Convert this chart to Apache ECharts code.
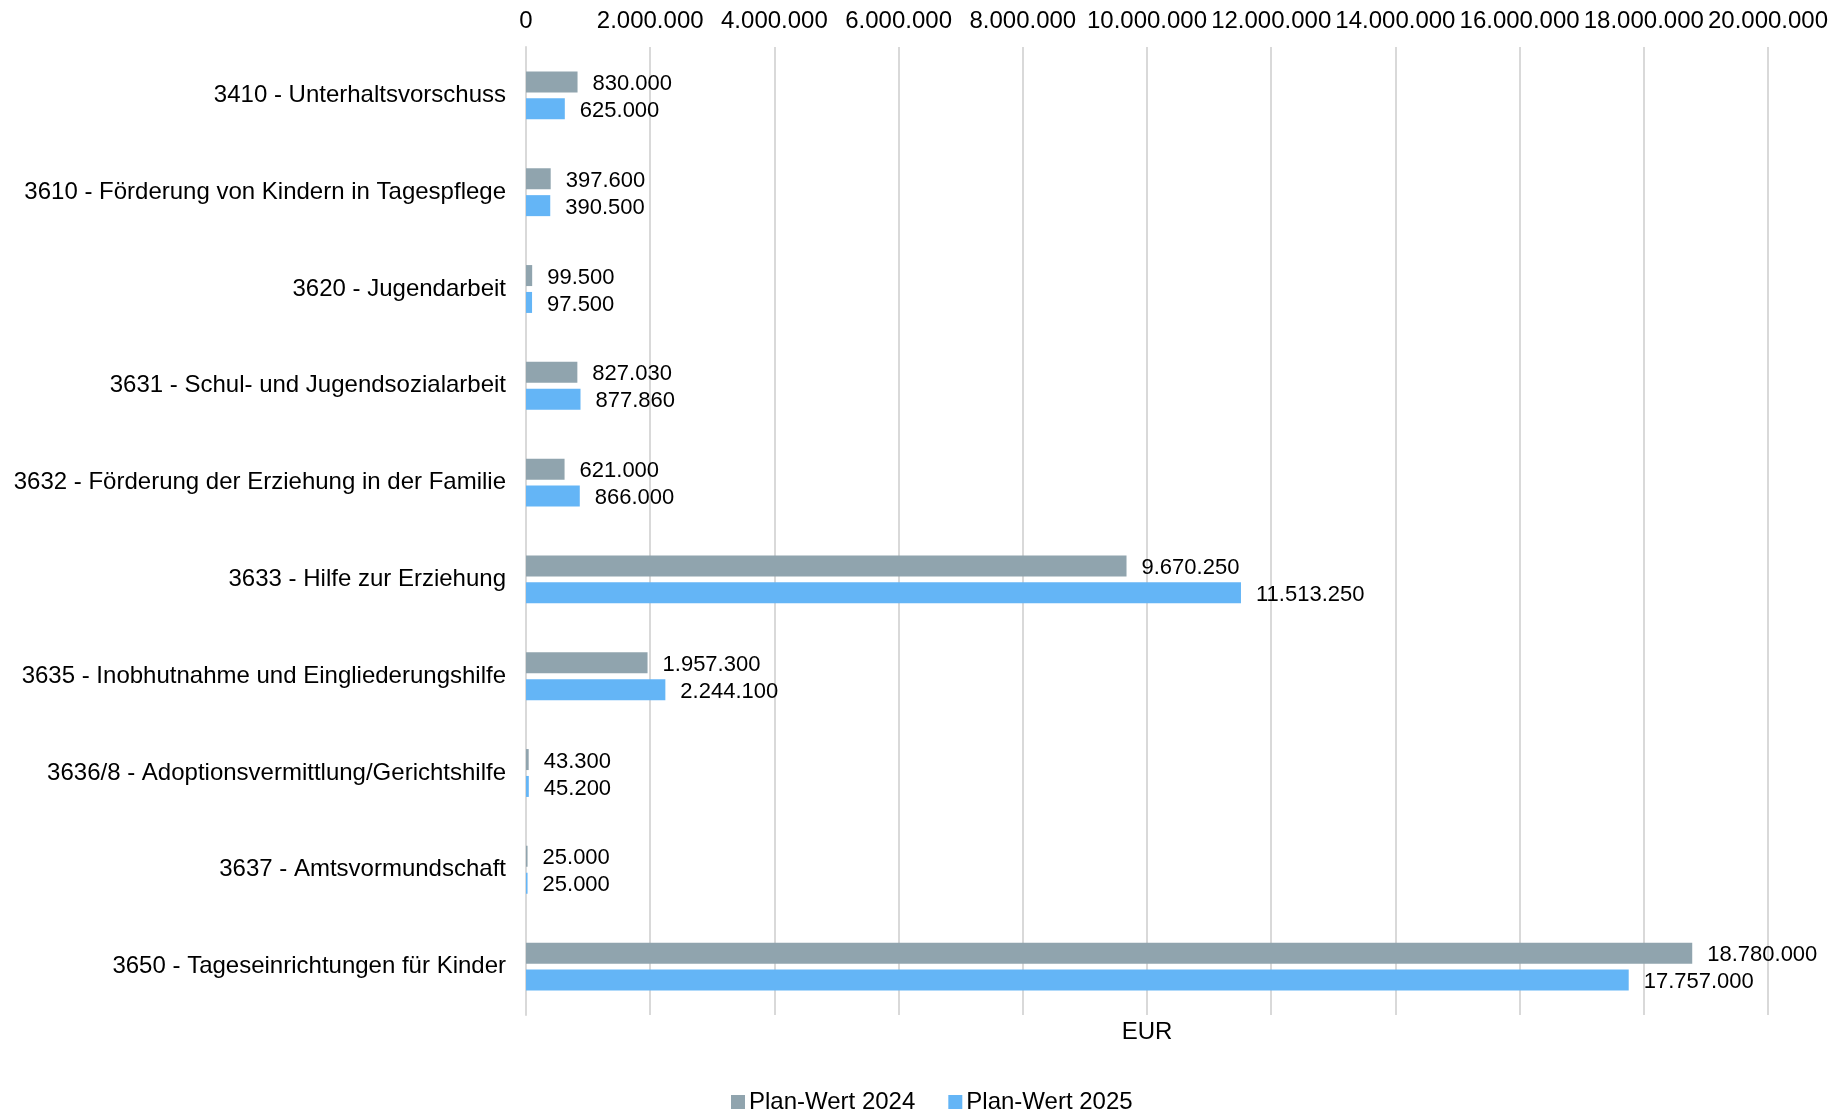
<!DOCTYPE html>
<html>
<head>
<meta charset="utf-8">
<script src="https://cdn.jsdelivr.net/npm/echarts@6/dist/echarts.min.js"></script>
<style>html,body{margin:0;padding:0;background:#fff}#chart{width:1847px;height:1116px}</style>
</head>
<body>
<div id="chart"></div>
<script>
const categories = [
  '3410 - Unterhaltsvorschuss',
  '3610 - Förderung von Kindern in Tagespflege',
  '3620 - Jugendarbeit',
  '3631 - Schul- und Jugendsozialarbeit',
  '3632 - Förderung der Erziehung in der Familie',
  '3633 - Hilfe zur Erziehung',
  '3635 - Inobhutnahme und Eingliederungshilfe',
  '3636/8 - Adoptionsvermittlung/Gerichtshilfe',
  '3637 - Amtsvormundschaft',
  '3650 - Tageseinrichtungen für Kinder'
];
const plan2024 = [830000, 397600, 99500, 827030, 621000, 9670250, 1957300, 43300, 25000, 18780000];
const plan2025 = [625000, 390500, 97500, 877860, 866000, 11513250, 2244100, 45200, 25000, 17757000];
const seriesNames = ['Plan-Wert 2024', 'Plan-Wert 2025'];
const axisMin = 0, axisMax = 20000000, axisStep = 2000000;

function fmt(v) {
  return String(Math.round(v)).replace(/\B(?=(\d{3})+(?!\d))/g, '.');
}

const FONT = 'Liberation Sans, Arial, sans-serif';
const chart = echarts.init(document.getElementById('chart'));
chart.setOption({
  animation: false,
  textStyle: { fontFamily: FONT },
  grid: { left: 526, right: 79, top: 47, bottom: 101 },
  legend: {
    data: seriesNames,
    left: 726, bottom: -3,
    itemWidth: 14, itemHeight: 14, itemGap: 33,
    icon: 'rect',
    textStyle: { fontSize: 24, color: '#000', fontFamily: FONT, padding: [0, 0, 0, -1] }
  },
  xAxis: [{
    type: 'value', position: 'top',
    min: axisMin, max: axisMax, interval: axisStep,
    axisLine: { show: false }, axisTick: { show: false },
    axisLabel: { fontSize: 24, color: '#000', margin: 14, formatter: fmt, fontFamily: FONT },
    splitLine: { lineStyle: { color: '#d9d9d9', width: 2 } }
  }, {
    type: 'value', position: 'bottom',
    min: axisMin, max: axisMax, interval: axisStep,
    axisLine: { show: false }, axisTick: { show: false },
    axisLabel: { show: false }, splitLine: { show: false },
    name: 'EUR', nameLocation: 'middle', nameGap: 5,
    nameTextStyle: { fontSize: 24, color: '#000', fontFamily: FONT }
  }],
  yAxis: {
    type: 'category', data: categories, inverse: true,
    axisLine: { show: true, lineStyle: { color: '#d9d9d9', width: 2 } },
    axisTick: { show: false },
    axisLabel: { fontSize: 24, color: '#000', margin: 20, fontFamily: FONT }
  },
  series: [{
    name: seriesNames[0], type: 'bar', data: plan2024,
    barWidth: 21, barGap: '28%',
    itemStyle: { color: '#90a4ae' },
    label: { show: true, position: 'right', distance: 15, offset: [0, 2], fontSize: 22, color: '#000', fontFamily: FONT,
      formatter: p => fmt(p.value) }
  }, {
    name: seriesNames[1], type: 'bar', data: plan2025,
    barWidth: 21, barGap: '28%',
    itemStyle: { color: '#64b5f6' },
    label: { show: true, position: 'right', distance: 15, offset: [0, 2], fontSize: 22, color: '#000', fontFamily: FONT,
      formatter: p => fmt(p.value) }
  }]
});
</script>
</body>
</html>
